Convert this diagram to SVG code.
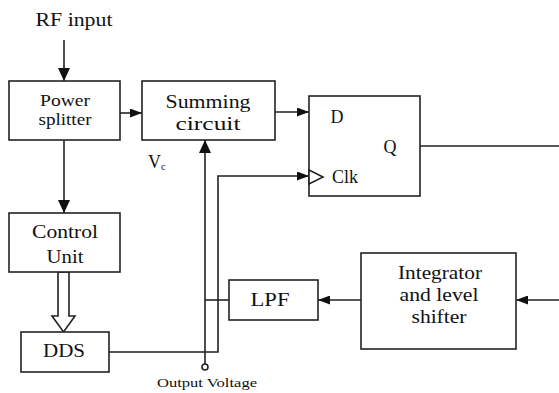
<svg xmlns="http://www.w3.org/2000/svg" width="559" height="393" viewBox="0 0 559 393">
<style>
.box{fill:#fff;stroke:#222;stroke-width:1.6}
.ln{fill:none;stroke:#222;stroke-width:1.6}
.t{font-family:'Liberation Serif','DejaVu Serif','Times New Roman',Times,serif;font-size:18px;fill:#111;text-anchor:middle}
.s{font-family:'Liberation Serif','DejaVu Serif','Times New Roman',Times,serif;font-size:13px;fill:#111;text-anchor:middle}
</style>
<defs>
<marker id="ah" markerUnits="userSpaceOnUse" markerWidth="13" markerHeight="12" viewBox="0 0 13 12" refX="13" refY="6" orient="auto"><path d="M0,0 L13,6 L0,12 z" fill="#111"/></marker>
<marker id="as" markerUnits="userSpaceOnUse" markerWidth="12" markerHeight="9" viewBox="0 0 12 9" refX="12" refY="4.5" orient="auto"><path d="M0,0 L12,4.5 L0,9 z" fill="#111"/></marker>
</defs>
<rect width="559" height="393" fill="#fff"/>
<g id="connectors">
<line class="ln" x1="64" y1="40" x2="64" y2="81" marker-end="url(#ah)"/>
<line class="ln" x1="120" y1="113" x2="142" y2="113" marker-end="url(#as)"/>
<line class="ln" x1="64" y1="140" x2="64" y2="213" marker-end="url(#ah)"/>
<polygon points="58,272 69,272 69,316 75,316 63.5,332 52,316 58,316" fill="#fff" stroke="#222" stroke-width="1.6"/>
<line class="ln" x1="275" y1="112" x2="309" y2="112" marker-end="url(#as)"/>
<line class="ln" x1="205" y1="364" x2="205" y2="140" marker-end="url(#ah)"/>
<circle cx="205" cy="367" r="3" fill="#fff" stroke="#222" stroke-width="1.6"/>
<polyline class="ln" points="109,352 218,352 218,176 309,176" marker-end="url(#as)"/>
<line class="ln" x1="205" y1="300" x2="229" y2="300"/>
<line class="ln" x1="361" y1="300" x2="318" y2="300" marker-end="url(#as)"/>
<line class="ln" x1="559" y1="300" x2="516" y2="300" marker-end="url(#as)"/>
<line class="ln" x1="420" y1="146" x2="559" y2="146"/>
</g>
<g id="rf-input"><text class="t" x="74" y="26" font-family="Liberation Serif, serif" textLength="77" lengthAdjust="spacingAndGlyphs">RF input</text></g>
<g id="power-splitter">
<rect class="box" x="9" y="81" width="111" height="59"/>
<text class="t" x="65" y="106" textLength="50" lengthAdjust="spacingAndGlyphs" style="font-size:17px">Power</text>
<text class="t" x="65" y="125" textLength="53" lengthAdjust="spacingAndGlyphs" style="font-size:17px">splitter</text>
</g>
<g id="summing-circuit">
<rect class="box" x="142" y="81" width="133" height="59"/>
<text class="t" x="208" y="108" textLength="85" lengthAdjust="spacingAndGlyphs">Summing</text>
<text class="t" x="208" y="130" textLength="65" lengthAdjust="spacingAndGlyphs">circuit</text>
</g>
<g id="vc"><text class="t" x="148" y="168" style="text-anchor:start">V<tspan font-size="10" dy="2">c</tspan></text></g>
<g id="d-flipflop">
<rect class="box" x="309" y="96" width="111" height="100"/>
<polygon points="309,170 323,177 309,184" fill="#fff" stroke="#222" stroke-width="1.6"/>
<text class="t" x="337" y="123">D</text>
<text class="t" x="390" y="153">Q</text>
<text class="t" x="345" y="183" textLength="26" lengthAdjust="spacingAndGlyphs">Clk</text>
</g>
<g id="control-unit">
<rect class="box" x="9" y="213" width="111" height="59"/>
<text class="t" x="65" y="238" textLength="66" lengthAdjust="spacingAndGlyphs">Control</text>
<text class="t" x="65" y="263" textLength="37" lengthAdjust="spacingAndGlyphs">Unit</text>
</g>
<g id="dds">
<rect class="box" x="21" y="332" width="88" height="40"/>
<text class="t" x="64" y="357" textLength="42" lengthAdjust="spacingAndGlyphs">DDS</text>
</g>
<g id="lpf">
<rect class="box" x="229" y="280" width="89" height="40"/>
<text class="t" x="270" y="306" textLength="39" lengthAdjust="spacingAndGlyphs">LPF</text>
</g>
<g id="integrator">
<rect class="box" x="361" y="253" width="155" height="96"/>
<text class="t" x="440" y="279" textLength="84" lengthAdjust="spacingAndGlyphs">Integrator</text>
<text class="t" x="439" y="301" textLength="79" lengthAdjust="spacingAndGlyphs">and level</text>
<text class="t" x="439" y="323" textLength="55" lengthAdjust="spacingAndGlyphs">shifter</text>
</g>
<g id="output-voltage"><text class="s" x="207" y="387" textLength="100" lengthAdjust="spacingAndGlyphs">Output Voltage</text></g>
</svg>
